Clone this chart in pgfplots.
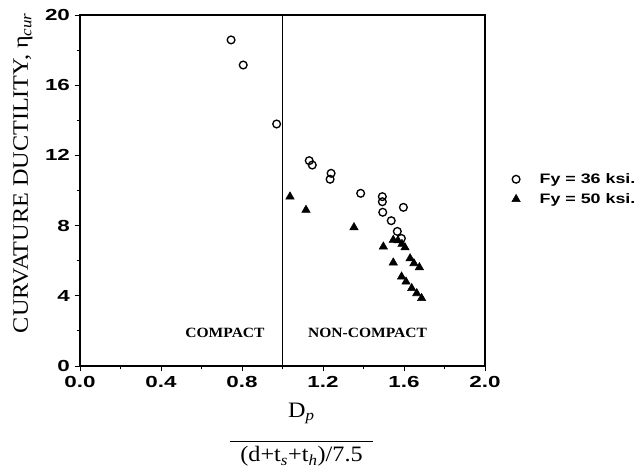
\documentclass[border=0pt]{standalone}
\usepackage{fontspec}
\setmainfont{Liberation Serif}[FakeStretch=1.1]
\newfontfamily\tickfont{Liberation Sans}[FakeStretch=1.4]
\newfontfamily\legfont{Liberation Sans}[FakeStretch=1.3]
\usepackage{pgfplots}
\pgfplotsset{compat=1.18}
\usepackage{pgfplotstable}
\pgfplotstableread{
x y
0.746 18.58
0.806 17.15
0.971 13.79
1.132 11.70
1.147 11.45
1.240 10.98
1.235 10.64
1.386 9.84
1.493 9.65
1.493 9.36
1.495 8.76
1.597 9.04
1.537 8.28
1.567 7.67
1.587 7.27
}\fyA
\pgfplotstableread{
x y
1.037 9.65
1.116 8.89
1.353 7.90
1.498 6.80
1.547 7.18
1.570 7.15
1.590 6.95
1.605 6.75
1.547 5.89
1.630 6.13
1.649 5.85
1.676 5.62
1.588 5.09
1.610 4.80
1.638 4.43
1.663 4.14
1.687 3.86
}\fyB
\begin{document}
\begin{tikzpicture}
\path[use as bounding box] (-60pt,-79.5pt) rectangle (419.25pt,274.5pt);
\begin{axis}[
  at={(0,0)}, anchor=south west,
  scale only axis, width=303.75pt, height=263.25pt,
  xmin=0, xmax=2, ymin=0, ymax=20,
  xtick={0,0.4,0.8,1.2,1.6,2.0}, ytick={0,4,8,12,16,20},
  minor x tick num=1, minor y tick num=1,
  tick align=outside, tick pos=left,
  major tick length=4pt, minor tick length=2.5pt,
  axis line style={line width=0.9pt},
  every tick/.style={black, line width=0.7pt},
  /pgf/number format/assume math mode=true,
  tick label style={font=\tickfont\bfseries\fontsize{12}{14}\selectfont},
  x tick label style={/pgf/number format/.cd, fixed, fixed zerofill, precision=1},
  xlabel={\begin{tabular}[t]{@{}c@{}}D\textsubscript{\textit{p}}\\[0.5pt]\rule{107pt}{0.7pt}\\[-3pt](d+t\textsubscript{\textit{s}}+t\textsubscript{\textit{h}})/7.5\end{tabular}},
  xlabel style={at={(axis description cs:0.547,-0.1453)}, anchor=base, font=\fontsize{16.5}{18}\selectfont},
  ylabel={CURVATURE DUCTILITY, η\textsubscript{\textit{cur}}},
  ylabel style={at={(axis description cs:-0.1284,0.55)}, anchor=base, font=\fontsize{16.5}{18}\selectfont},
  legend style={at={(axis description cs:1.056,0.565)}, anchor=north west, draw=none, fill=none,
    font=\legfont\bfseries\fontsize{10.3}{12}\selectfont, row sep=2pt},
  legend cell align=left,
  legend image code/.code={\path[draw=none] (0cm,0cm) (0.55cm,0cm); \draw[#1, only marks] plot coordinates {(0cm,0cm)};},
]
\addplot[only marks, mark=o, mark size=2.9pt, line width=1pt, black] table {\fyA};
\addlegendentry{Fy = 36 ksi.}
\addplot[only marks, mark=triangle*, mark size=3.6pt, black, fill=black] table {\fyB};
\addlegendentry{Fy = 50 ksi.}
\addplot[forget plot, black, line width=0.8pt] coordinates {(1,0) (1,20)};
\node[font=\bfseries\fontsize{10.6}{12}\selectfont] at (axis cs:0.716,1.9) {COMPACT};
\node[font=\bfseries\fontsize{10.6}{12}\selectfont] at (axis cs:1.42,1.9) {NON-COMPACT};
\end{axis}
\end{tikzpicture}
\end{document}
